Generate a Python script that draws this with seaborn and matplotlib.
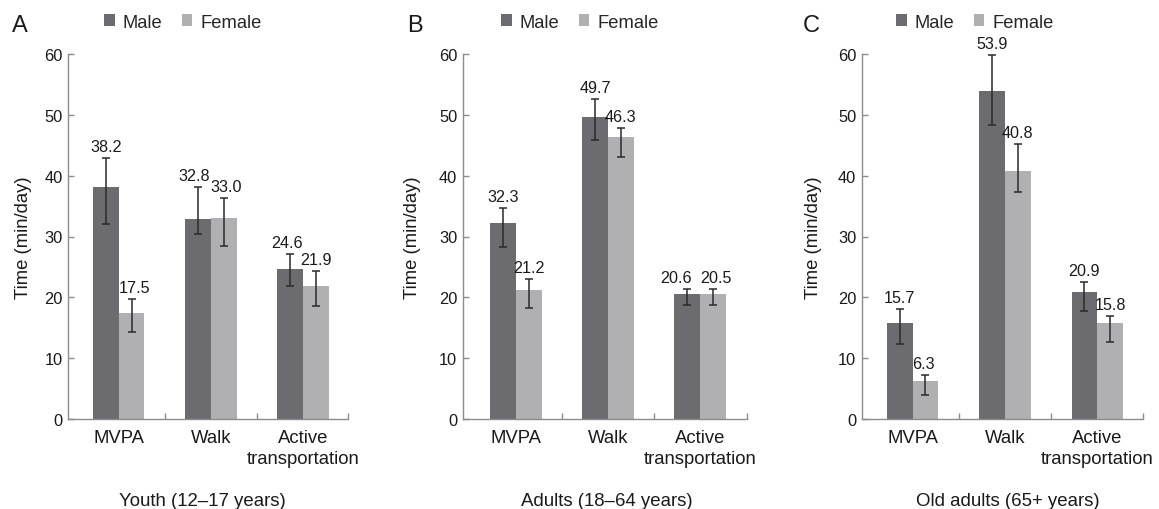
import numpy as np
import pandas as pd
import matplotlib
matplotlib.use("Agg")
import matplotlib.pyplot as plt
from matplotlib.patches import Patch
from matplotlib.container import BarContainer
import seaborn as sns

# ---------------- data ----------------
categories = ["MVPA", "Walk", "Active\ntransportation"]
sexes = ["Male", "Female"]
panel_letters = ["A", "B", "C"]
panel_titles = ["Youth (12\u201317 years)", "Adults (18\u201364 years)", "Old adults (65+ years)"]

youth_male = [38.2, 32.8, 24.6]
youth_female = [17.5, 33.0, 21.9]
youth_male_lo = [32.0, 30.4, 21.9]
youth_male_hi = [42.9, 38.2, 27.1]
youth_female_lo = [14.25, 28.5, 18.6]
youth_female_hi = [19.7, 36.4, 24.4]

adult_male = [32.3, 49.7, 20.6]
adult_female = [21.2, 46.3, 20.5]
adult_male_lo = [28.3, 45.8, 18.7]
adult_male_hi = [34.7, 52.6, 21.4]
adult_female_lo = [18.3, 43.1, 18.7]
adult_female_hi = [23.0, 47.9, 21.4]

old_male = [15.7, 53.9, 20.9]
old_female = [6.3, 40.8, 15.8]
old_male_lo = [12.3, 48.4, 17.8]
old_male_hi = [18.1, 59.8, 22.5]
old_female_lo = [3.95, 37.3, 12.6]
old_female_hi = [7.2, 45.2, 16.9]

yticks = [0, 10, 20, 30, 40, 50, 60]
ylabel = "Time (min/day)"

# ---------------- style ----------------
sns.set_style("white")
plt.rcParams["font.family"] = ["Liberation Sans", "DejaVu Sans"]

male_color = "#6b6b70"
female_color = "#b0b0b3"
palette = {"Male": male_color, "Female": female_color}
spine_color = "#8c8c8c"
text_color = "#1a1a1a"

W, H = 1159, 510
fig = plt.figure(figsize=(W / 100, H / 100), dpi=100)
fig.patch.set_facecolor("white")

# axes geometry in pixels: (left, right)
ax_px = [(68, 348), (462.7, 746.7), (861.7, 1142.7)]
xlims = [(-0.55, 2.49), (-0.58, 2.51), (-0.55, 2.49)]
ax_bottom, ax_top = 420, 55
legend_cx = [183, 580, 975]
letter_x = [12, 407, 803]
title_cx = [202.5, 606.7, 1008]
ylabel_x = [-0.13, -0.147, -0.14]
# horizontal nudges (pixels) of value labels: [panel][sex][category]
label_dx = [
    [[0, -4, -3], [3, 2, 0]],
    [[0, 0, -11], [0, 0, 3]],
    [[0, 0, 0], [-2, 0, 0]],
]

panels = [
    (youth_male, youth_female, youth_male_lo, youth_male_hi, youth_female_lo, youth_female_hi),
    (adult_male, adult_female, adult_male_lo, adult_male_hi, adult_female_lo, adult_female_hi),
    (old_male, old_female, old_male_lo, old_male_hi, old_female_lo, old_female_hi),
]

for i, (m, f, mlo, mhi, flo, fhi) in enumerate(panels):
    l, r = ax_px[i]
    ax = fig.add_axes([l / W, (H - ax_bottom) / H, (r - l) / W, (ax_bottom - ax_top) / H])
    df = pd.DataFrame({
        "Category": categories * 2,
        "Sex": ["Male"] * 3 + ["Female"] * 3,
        "Value": list(m) + list(f),
    })
    sns.barplot(data=df, x="Category", y="Value", hue="Sex", hue_order=sexes,
                order=categories, palette=palette, width=0.56, saturation=1,
                errorbar=None, legend=False, ax=ax, linewidth=0)

    los = [mlo, flo]
    his = [mhi, fhi]
    vals = [m, f]
    bar_conts = [c for c in ax.containers if isinstance(c, BarContainer)]
    for k, cont in enumerate(bar_conts):
        for j, patch in enumerate(list(cont.patches)):
            xc = patch.get_x() + patch.get_width() / 2
            h = patch.get_height()
            lo, hi = los[k][j], his[k][j]
            ax.errorbar(xc, h, yerr=[[h - lo], [hi - h]], fmt="none", ecolor="#2a2a2a",
                        elinewidth=1.1, capsize=3.0, capthick=1.1, zorder=3)
            ax.annotate(f"{vals[k][j]:.1f}", xy=(xc, hi),
                        xytext=(label_dx[i][k][j] * 0.72, 5),
                        textcoords="offset points", ha="center", va="baseline",
                        fontsize=11.6, color=text_color)

    ax.set_xlim(*xlims[i])
    ax.set_ylim(0, 60)
    ax.set_yticks(yticks)
    ax.set_xlabel("")
    ax.set_ylabel(ylabel, fontsize=13.3, color=text_color)
    ax.yaxis.set_label_coords(ylabel_x[i], 0.5)

    for s in ["top", "right"]:
        ax.spines[s].set_visible(False)
    for s in ["left", "bottom"]:
        ax.spines[s].set_color(spine_color)
        ax.spines[s].set_linewidth(1.0)

    ax.tick_params(axis="y", direction="in", length=4, width=1.0, color=spine_color,
                   labelsize=11.8, labelcolor=text_color, pad=4, left=True)
    ax.tick_params(axis="x", which="major", length=0, labelsize=13.3,
                   labelcolor=text_color, pad=7)
    ax.set_xticks([0.5, 1.5, xlims[i][1]], minor=True)
    ax.tick_params(axis="x", which="minor", direction="in", length=4, width=1.0,
                   color=spine_color, bottom=True)
    for lab in ax.get_xticklabels():
        lab.set_linespacing(1.35)

    handles = [Patch(facecolor=male_color, edgecolor="none", label="Male"),
               Patch(facecolor=female_color, edgecolor="none", label="Female")]
    ax.legend(handles=handles, loc="center", bbox_to_anchor=(legend_cx[i] / W, 1 - 23 / H),
              bbox_transform=fig.transFigure, ncol=2, frameon=False, fontsize=13.2,
              handlelength=0.55, handleheight=0.55, handletextpad=0.45,
              columnspacing=1.05, borderaxespad=0, borderpad=0)

    fig.text(letter_x[i] / W, 1 - 26 / H, panel_letters[i], fontsize=17,
             ha="left", va="center", color=text_color)
    fig.text(title_cx[i] / W, 1 - 506 / H, panel_titles[i], fontsize=13.4,
             ha="center", va="baseline", color=text_color)

fig.savefig("out.png", dpi=100, facecolor="white")
